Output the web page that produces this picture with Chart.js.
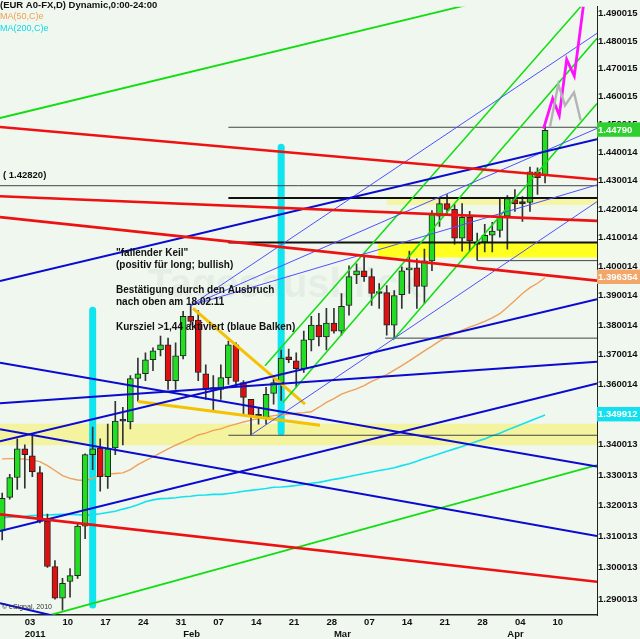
<!DOCTYPE html>
<html>
<head>
<meta charset="utf-8">
<script src="https://cdn.jsdelivr.net/npm/chart.js@4.4.1/dist/chart.umd.min.js"></script>
<style>
  html, body { margin: 0; padding: 0; background: #eff7ef; }
</style>
</head>
<body>
<canvas id="chart" width="640" height="639"></canvas>
<script>
// EUR/USD daily, 29.12.2010 - 08.04.2011 (index 0 = Mon 03.01.2011)
const firstDay = -3;
const openP = [
  1.3118, 1.3227, 1.3292,
  1.3386, 1.3363, 1.3308, 1.3150, 1.3004,
  1.2903, 1.2956, 1.2975, 1.3134, 1.3367,
  1.3389, 1.3295, 1.3389, 1.3478, 1.3475,
  1.3620, 1.3636, 1.3683, 1.3716, 1.3733,
  1.3613, 1.3696, 1.3830, 1.3817, 1.3636,
  1.3583, 1.3583, 1.3623, 1.3733, 1.3606,
  1.3550, 1.3494, 1.3488, 1.3570, 1.3606,
  1.3693, 1.3679, 1.3653, 1.3750, 1.3800,
  1.3760, 1.3807, 1.3780, 1.3867, 1.3972,
  1.3986, 1.3966, 1.3908, 1.3911, 1.3800,
  1.3904, 1.3989, 1.3996, 1.3932, 1.4020,
  1.4175, 1.4219, 1.4199, 1.4099, 1.4171,
  1.4077, 1.4085, 1.4109, 1.4126, 1.4175,
  1.4233, 1.4219, 1.4223, 1.4331, 1.4320
];
const highP = [
  1.3241, 1.3302, 1.3419,
  1.3399, 1.3435, 1.3328, 1.3173, 1.3023,
  1.2966, 1.2997, 1.3144, 1.3370, 1.3458,
  1.3419, 1.3468, 1.3544, 1.3524, 1.3630,
  1.3689, 1.3706, 1.3723, 1.3763, 1.3756,
  1.3740, 1.3847, 1.3867, 1.3850, 1.3666,
  1.3630, 1.3666, 1.3746, 1.3740, 1.3613,
  1.3550, 1.3524, 1.3590, 1.3623, 1.3716,
  1.3719, 1.3706, 1.3780, 1.3830, 1.3840,
  1.3857, 1.3857, 1.3908, 1.4003, 1.4010,
  1.4035, 1.3993, 1.3942, 1.3935, 1.3918,
  1.4000, 1.4054, 1.4027, 1.4061, 1.4195,
  1.4240, 1.4251, 1.4216, 1.4219, 1.4192,
  1.4116, 1.4147, 1.4154, 1.4240, 1.4247,
  1.4268, 1.4244, 1.4348, 1.4345, 1.4492
];
const lowP = [
  1.3089, 1.3221, 1.3253,
  1.3257, 1.3295, 1.3144, 1.3001, 1.2900,
  1.2865, 1.2906, 1.2966, 1.3093, 1.3318,
  1.3247, 1.3256, 1.3367, 1.3399, 1.3452,
  1.3544, 1.3613, 1.3646, 1.3696, 1.3583,
  1.3583, 1.3686, 1.3800, 1.3613, 1.3550,
  1.3514, 1.3550, 1.3600, 1.3597, 1.3501,
  1.3432, 1.3468, 1.3468, 1.3534, 1.3547,
  1.3673, 1.3590, 1.3640, 1.3713, 1.3730,
  1.3716, 1.3773, 1.3766, 1.3834, 1.3942,
  1.3949, 1.3867, 1.3857, 1.3766, 1.3756,
  1.3857, 1.3908, 1.3857, 1.3874, 1.3986,
  1.4140, 1.4181, 1.4078, 1.4054, 1.4054,
  1.4023, 1.4051, 1.4051, 1.4102, 1.4061,
  1.4192, 1.4157, 1.4192, 1.4251, 1.4292
];
const closeP = [
  1.3224, 1.3292, 1.3386,
  1.3367, 1.3311, 1.3150, 1.3004, 1.2903,
  1.2950, 1.2975, 1.3134, 1.3367, 1.3386,
  1.3295, 1.3386, 1.3478, 1.3478, 1.3620,
  1.3636, 1.3683, 1.3713, 1.3733, 1.3613,
  1.3696, 1.3830, 1.3813, 1.3640, 1.3583,
  1.3583, 1.3623, 1.3733, 1.3610, 1.3557,
  1.3497, 1.3494, 1.3567, 1.3606, 1.3689,
  1.3683, 1.3653, 1.3750, 1.3800, 1.3760,
  1.3807, 1.3780, 1.3864, 1.3966, 1.3986,
  1.3966, 1.3908, 1.3908, 1.3800, 1.3901,
  1.3986, 1.3996, 1.3932, 1.4020, 1.4181,
  1.4219, 1.4199, 1.4099, 1.4171, 1.4089,
  1.4077, 1.4109, 1.4123, 1.4175, 1.4237,
  1.4219, 1.4219, 1.4331, 1.4310, 1.4478
];
const ma50 = [
  1.3353, 1.3354, 1.3354,
  1.3352, 1.3349, 1.3344, 1.3331, 1.3315,
  1.3298, 1.3289, 1.3284, 1.3282, 1.3289,
  1.3300, 1.3303, 1.3305, 1.3307, 1.3318,
  1.3334, 1.3347, 1.3360, 1.3373, 1.3386,
  1.3398, 1.3409, 1.3420, 1.3432, 1.3438,
  1.3447, 1.3452, 1.3461, 1.3468, 1.3475,
  1.3481, 1.3486, 1.3491, 1.3496, 1.3498,
  1.3501, 1.3504, 1.3506, 1.3509, 1.3524,
  1.3540, 1.3553, 1.3568, 1.3577, 1.3585,
  1.3596, 1.3610, 1.3621, 1.3633, 1.3648,
  1.3663, 1.3679, 1.3696, 1.3713, 1.3729,
  1.3746, 1.3760, 1.3771, 1.3783, 1.3793,
  1.3803, 1.3813, 1.3825, 1.3839, 1.3861,
  1.3884, 1.3908, 1.3928, 1.3943, 1.3962
];
const ma200 = [
  1.3161, 1.3163, 1.3165,
  1.3166, 1.3168, 1.3169, 1.3170, 1.3171,
  1.3172, 1.3172, 1.3171, 1.3169, 1.3171,
  1.3174, 1.3178, 1.3182, 1.3189, 1.3195,
  1.3203, 1.3213, 1.3219, 1.3223, 1.3224,
  1.3226, 1.3229, 1.3231, 1.3234, 1.3235,
  1.3237, 1.3237, 1.3240, 1.3243, 1.3247,
  1.3250, 1.3253, 1.3256, 1.3260, 1.3261,
  1.3263, 1.3266, 1.3269, 1.3273, 1.3276,
  1.3281, 1.3286, 1.3290, 1.3295, 1.3300,
  1.3305, 1.3310, 1.3315, 1.3319, 1.3324,
  1.3331, 1.3337, 1.3345, 1.3354, 1.3362,
  1.3370, 1.3378, 1.3386, 1.3394, 1.3402,
  1.3411, 1.3419, 1.3429, 1.3438, 1.3448,
  1.3458, 1.3468, 1.3478, 1.3488, 1.3498
];

// axes
const dayTicks = [0, 5, 10, 15, 20, 25, 30, 35, 40, 45, 50, 55, 60, 65, 70];
const dayLabels = ['03', '10', '17', '24', '31', '07', '14', '21', '28', '07', '14', '21', '28', '04', '10'];
const monthTicks = [0, 21, 41, 64];
const monthLabels = ['2011', 'Feb', 'Mar', 'Apr'];
const priceTicks = [1.290013, 1.300013, 1.310013, 1.320013, 1.330013, 1.340013, 1.360014, 1.370014,
  1.380014, 1.390014, 1.400014, 1.410014, 1.420014, 1.430014, 1.440014, 1.450015, 1.460015,
  1.470015, 1.480015, 1.490015];
const markerValues = [1.349912, 1.396354, 1.44790];   // MA200, MA50, last
const xMin = -3.29, xMax = 75.89;
const yMin = 1.28496, yMax = 1.49255;

// drawings (x = trading day index, y = price)
const redLines = [
  [[-3.29, 1.4490], [75.89, 1.4304]],
  [[-3.29, 1.4245], [75.89, 1.4159]],
  [[-3.29, 1.4172], [75.89, 1.3952]],
  [[-3.29, 1.3172], [75.89, 1.2955]]
];
const blueLines = [
  [[-3.29, 1.3951], [75.89, 1.4446]],
  [[-3.29, 1.3118], [75.89, 1.3603]],
  [[-3.29, 1.3411], [75.89, 1.3888]],
  [[-3.29, 1.3537], [75.89, 1.3676]],
  [[-3.29, 1.3673], [75.89, 1.3328]],
  [[-3.29, 1.3451], [75.89, 1.3102]],
  [[-3.29, 1.2887], [9.97, 1.2813]]
];
const thinBlueLines = [
  [[22, 1.3867], [75.89, 1.4828]],
  [[22, 1.3867], [75.89, 1.4485]],
  [[22, 1.3867], [75.89, 1.4285]],
  [[30, 1.3432], [75.89, 1.4226]]
];
const greenLines = [
  [[-3.29, 1.4522], [75.89, 1.5048]],
  [[0.69, 1.2832], [75.89, 1.3333]],
  [[31.86, 1.3663], [75.89, 1.4994]],
  [[34.24, 1.3540], [75.89, 1.4810]],
  [[48.83, 1.3750], [75.89, 1.4574]]
];
const wedgeLines = [
  [[22.31, 1.3857], [37.16, 1.3534]],
  [[15.01, 1.3543], [39.15, 1.3464]]
];
const thinLevels = [1.4282, 1.4489, 1.3756, 1.3431, 1.4021];
const thinLevelStart = [-3.29, 27, 47.8, 27, 60];
const heavyLevels = [1.4239, 1.4084];
const heavyLevelStart = [27, 27];
const bandLow = [1.3398, 1.4032, 1.4214];
const bandHigh = [1.3469, 1.4084, 1.4240];
const bandStart = [-3.29, 46.8, 48];
const signalBars = [[9, 1.2881, 1.3851], [34, 1.3442, 1.4418]];
const projUp = [[68.8, 1.4484], [70.01, 1.4592], [70.89, 1.4531], [71.87, 1.4733], [72.88, 1.4673], [74.56, 1.5031]];
const projAlt = [[69.65, 1.4490], [70.76, 1.4644], [71.64, 1.4567], [72.84, 1.4614], [73.73, 1.4513]];

const FONT = "'Liberation Sans', Arial, Helvetica, sans-serif";
const BG = '#eff7ef';

const days = openP.map((_, k) => firstDay + k);

function line(pts, color, width, order, extra) {
  return Object.assign({
    type: 'line',
    data: pts.map(p => ({ x: p[0], y: p[1] })),
    borderColor: color, borderWidth: width,
    pointRadius: 0, tension: 0, fill: false, clip: 0, order: order
  }, extra || {});
}

const datasets = [];
bandLow.forEach((lo, k) => {
  const colors = ['#f3f3a0', '#ffff20', '#f5f5a6'];
  datasets.push(line([[bandStart[k], bandHigh[k]], [xMax, bandHigh[k]]], 'rgba(0,0,0,0)', 0, 100,
    { fill: '+1', backgroundColor: colors[k] }));
  datasets.push(line([[bandStart[k], lo], [xMax, lo]], 'rgba(0,0,0,0)', 0, 100));
});
signalBars.forEach(b => datasets.push(line([[b[0], b[1]], [b[0], b[2]]], '#10e4ee', 7, 90,
  { borderCapStyle: 'round' })));
datasets.push(line(days.map((d, k) => [d, ma200[k]]), '#14e2ee', 1.6, 85));
datasets.push(line(days.map((d, k) => [d, ma50[k]]), '#f0a058', 1.4, 85));

datasets.push({
  type: 'bar', order: 60, grouped: false, barThickness: 1,
  data: days.map((d, k) => ({ x: d, y: [lowP[k], highP[k]] })),
  backgroundColor: '#333'
});
datasets.push({
  type: 'bar', order: 55, grouped: false, barThickness: 6, minBarLength: 2,
  data: days.map((d, k) => ({ x: d, y: [Math.min(openP[k], closeP[k]), Math.max(openP[k], closeP[k])] })),
  backgroundColor: days.map((d, k) => closeP[k] > openP[k] ? '#22dd22' : closeP[k] < openP[k] ? '#dd1111' : '#222'),
  borderColor: '#222', borderWidth: 1, borderSkipped: false
});

thinLevels.forEach((p, k) => datasets.push(line([[thinLevelStart[k], p], [xMax, p]], '#444', 1, 50)));
heavyLevels.forEach((p, k) => datasets.push(line([[heavyLevelStart[k], p], [xMax, p]], '#111', 2, 50)));
redLines.forEach(l => datasets.push(line(l, '#ee1111', 2.6, 40)));
blueLines.forEach(l => datasets.push(line(l, '#0a0ad0', 2, 40)));
thinBlueLines.forEach(l => datasets.push(line(l, '#5050ff', 1, 40)));
greenLines.forEach((l, k) => datasets.push(line(l, '#11dd11', k < 2 ? 1.8 : 1.5, 40)));
wedgeLines.forEach(l => datasets.push(line(l, '#f4c200', 3, 40)));
datasets.push(line(projAlt, '#b4b4b4', 2.4, 30));
datasets.push(line(projUp, '#ff11ff', 2.8, 30));

function xLabel(v) {
  const d = dayTicks.indexOf(v), m = monthTicks.indexOf(v);
  if (m < 0) return d >= 0 ? dayLabels[d] : '';
  return [d >= 0 ? dayLabels[d] : '', monthLabels[m]];
}
const xTickValues = Array.from(new Set(dayTicks.concat(monthTicks))).sort((a, b) => a - b);
const markerBg = ['#12e0ee', '#f2a66a', '#30cf30'];

const backgroundPlugin = {
  id: 'background',
  beforeDraw(chart) {
    const c = chart.ctx;
    c.save();
    c.fillStyle = BG;
    c.fillRect(0, 0, chart.width, chart.height);
    c.restore();
  },
  beforeDatasetsDraw(chart) {
    const c = chart.ctx, a = chart.chartArea;
    c.save();
    c.beginPath(); c.rect(a.left, a.top, a.right - a.left, a.bottom - a.top); c.clip();
    c.fillStyle = 'rgba(90,110,90,0.06)';
    c.font = 'bold 40px ' + FONT;
    c.textBaseline = 'alphabetic';
    c.fillText('Tagesausblick', 148, 297);
    c.restore();
  }
};

const textPlugin = {
  id: 'texts',
  afterDraw(chart) {
    const c = chart.ctx;
    c.save();
    c.textBaseline = 'middle';
    c.textAlign = 'left';
    c.fillStyle = '#111';
    c.font = 'bold 9.5px ' + FONT;
    c.fillText('(EUR A0-FX,D) Dynamic,0:00-24:00', 0, 5);
    c.font = '9px ' + FONT;
    c.fillStyle = '#f0a050';
    c.fillText('MA(50,C)e', 0, 16.5);
    c.fillStyle = '#10d8e8';
    c.fillText('MA(200,C)e', 0, 28.5);
    c.fillStyle = '#111';
    c.font = 'bold 9.5px ' + FONT;
    c.fillText('( 1.42820)', 3, 175);
    c.font = 'bold 10px ' + FONT;
    const notes = ['"fallender Keil"', '(positiv für long; bullish)', '',
      'Bestätigung durch den Ausbruch', 'nach oben am 18.02.11', '',
      'Kursziel >1,44 aktiviert (blaue Balken)'];
    notes.forEach((t, k) => { if (t) c.fillText(t, 116, 253 + k * 12.4); });
    c.font = '7px ' + FONT;
    c.fillStyle = '#333';
    c.fillText('© eSignal, 2010', 2, 607);
    c.restore();
  }
};

new Chart(document.getElementById('chart'), {
  type: 'bar',
  data: { datasets: datasets },
  options: {
    responsive: false,
    animation: false,
    events: [],
    layout: { padding: 0, autoPadding: false },
    plugins: { legend: { display: false }, tooltip: { enabled: false } },
    scales: {
      x: {
        type: 'linear', position: 'bottom', min: xMin, max: xMax, offset: false,
        grid: { display: false, drawTicks: false, tickLength: 0 },
        border: { display: true, color: '#222', width: 1.5 },
        afterBuildTicks: s => { s.ticks = xTickValues.map(v => ({ value: v })); },
        afterFit: s => { s.height = 24; },
        ticks: {
          autoSkip: false, maxRotation: 0, minRotation: 0, align: 'start', padding: 2,
          color: '#111', font: { family: FONT, size: 9.5, weight: 'bold' },
          callback: v => xLabel(v)
        }
      },
      y: {
        type: 'logarithmic', position: 'right', min: yMin, max: yMax,
        grid: { display: false, drawTicks: false, tickLength: 0 },
        border: { display: true, color: '#222', width: 1 },
        afterBuildTicks: s => { s.ticks = priceTicks.concat(markerValues).map(v => ({ value: v })); },
        afterFit: s => { s.width = 43; },
        ticks: {
          autoSkip: false, padding: 1,
          font: { family: FONT, size: 9.5, weight: 'bold' },
          color: c => markerValues.indexOf(c.tick.value) >= 0 ? '#ffffff' : '#111',
          showLabelBackdrop: c => markerValues.indexOf(c.tick.value) >= 0,
          backdropColor: c => markerBg[markerValues.indexOf(c.tick.value)] || 'rgba(0,0,0,0)',
          backdropPadding: { top: 2, bottom: 1, left: 1, right: 8 },
          callback: v => v === markerValues[2] ? v.toFixed(5) : v.toFixed(6)
        }
      }
    }
  },
  plugins: [backgroundPlugin, textPlugin]
});
</script>
</body>
</html>
